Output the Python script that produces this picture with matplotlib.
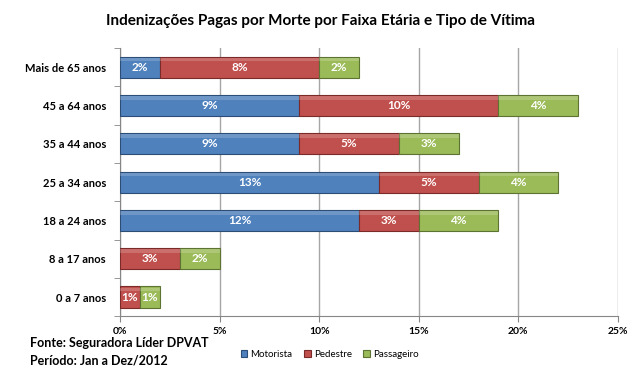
import matplotlib
matplotlib.use('Agg')
import matplotlib.pyplot as plt

plt.rcParams['font.family'] = ['Lato', 'DejaVu Sans']

faixas = ["0 a 7 anos", "8 a 17 anos", "18 a 24 anos", "25 a 34 anos",
          "35 a 44 anos", "45 a 64 anos", "Mais de 65 anos"]
motorista = [0, 0, 12, 13, 9, 9, 2]
pedestre = [1, 3, 3, 5, 5, 10, 8]
passageiro = [1, 2, 4, 4, 3, 4, 2]

series = [("Motorista", motorista, "#4F81BD", "#2c4d75"),
          ("Pedestre", pedestre, "#C0504D", "#7a2b29"),
          ("Passageiro", passageiro, "#9BBB59", "#5c7332")]

fig = plt.figure(figsize=(6.4, 3.87), dpi=100)
ax = fig.add_axes([0.1875, 0.183, 0.778, 0.693])

y = list(range(len(faixas)))
left = [0] * len(faixas)
h = 0.55
for nome, vals, cor, borda in series:
    bars = ax.barh(y, vals, left=left, height=h, color=cor, edgecolor=borda,
                   linewidth=0.8, label=nome, zorder=3)
    # faixa clara no topo para imitar o relevo
    ax.barh([i + h * 0.36 for i in y], vals, left=left, height=h * 0.18,
            color="white", alpha=0.18, linewidth=0, zorder=4)
    for b, v, l in zip(bars, vals, left):
        if v > 0:
            ax.text(l + v / 2, b.get_y() + b.get_height() / 2, f"{v}%",
                    ha="center", va="center", color="white",
                    fontsize=8.5, fontweight="bold", zorder=5)
    left = [a + b for a, b in zip(left, vals)]

ax.set_xlim(0, 25)
ax.set_ylim(-0.5, len(faixas) - 0.5)
ax.set_xticks([0, 5, 10, 15, 20, 25])
ax.set_xticklabels(["0%", "5%", "10%", "15%", "20%", "25%"])
ax.set_yticks(y)
ax.set_yticklabels(faixas)
ax.set_yticks([i - 0.5 for i in range(len(faixas) + 1)], minor=True)
ax.tick_params(axis='y', which='major', length=0, pad=10, labelsize=8)
ax.tick_params(axis='y', which='minor', length=4, color="#868686")
ax.tick_params(axis='x', length=4, color="#868686", labelsize=7.5, pad=4)
for t in ax.get_yticklabels() + ax.get_xticklabels():
    t.set_fontweight("bold")
ax.grid(axis='x', color="#a6a6a6", linewidth=1, zorder=0)
for s in ["top", "right"]:
    ax.spines[s].set_visible(False)
ax.spines["left"].set_color("#868686")
ax.spines["bottom"].set_color("#868686")

fig.text(0.5, 0.945, "Indenizações Pagas por Morte por Faixa Etária e Tipo de Vítima",
         ha="center", va="center", fontsize=11, fontweight="bold")
fig.text(0.047, 0.103, "Fonte: Seguradora Líder DPVAT", fontsize=9, fontweight="bold")
fig.text(0.047, 0.059, "Período: Jan a Dez/2012", fontsize=9, fontweight="bold")

fig.legend(loc="center", bbox_to_anchor=(0.515, 0.085), ncol=3, frameon=False,
           fontsize=7, handlelength=0.7, handleheight=0.7, columnspacing=1.2,
           handletextpad=0.3)

plt.savefig("out.png", dpi=100)
plt.close()
